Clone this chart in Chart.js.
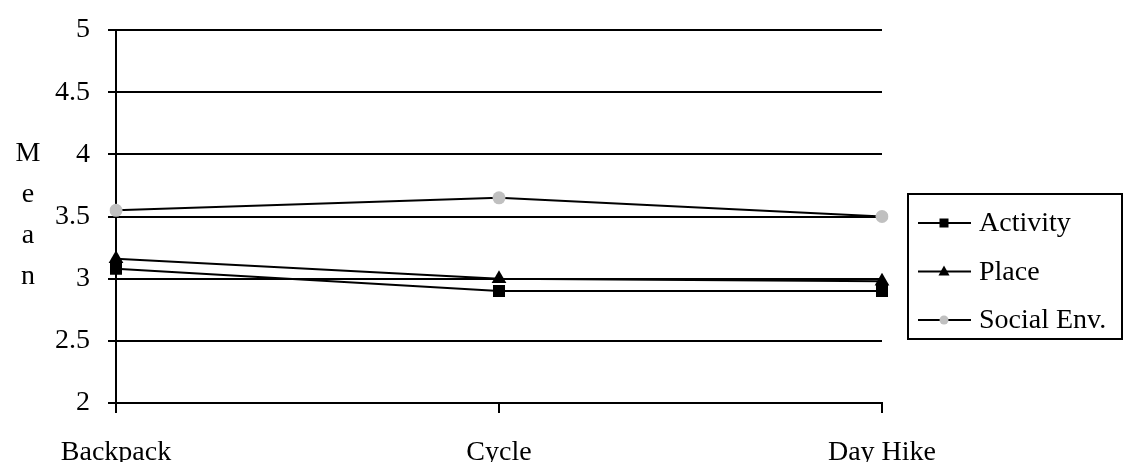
<!DOCTYPE html>
<html>
<head>
<meta charset="utf-8">
<script src="https://cdn.jsdelivr.net/npm/chart.js@4.4.1/dist/chart.umd.min.js"></script>
<style>
  html, body { margin: 0; padding: 0; background: #fff; }
  #wrap { width: 1125px; height: 462px; position: relative; }
</style>
</head>
<body>
<div id="wrap"><canvas id="c" width="1125" height="462"></canvas></div>
<script>
// Trip types and mean scores per dimension
const categories = ['Backpack', 'Cycle', 'Day Hike'];
const activity   = [3.08, 2.90, 2.90];
const place      = [3.16, 3.00, 2.98];
const socialEnv  = [3.55, 3.65, 3.50];
const seriesNames = ['Activity', 'Place', 'Social Env.'];
const yTicks = [2, 2.5, 3, 3.5, 4, 4.5, 5];
const yTitle = ['M', 'e', 'a', 'n'];

const FONT = '"Liberation Serif", "Times New Roman", serif';
const FONT_SIZE = 28;

// Boxed legend with a short line through each marker, plus the stacked axis title
const extrasPlugin = {
  id: 'extras',
  afterDraw(chart) {
    const ctx = chart.ctx;
    const area = chart.chartArea;
    ctx.save();
    // stacked y title, one letter per line
    ctx.fillStyle = '#000';
    ctx.font = FONT_SIZE + 'px ' + FONT;
    ctx.textAlign = 'center';
    ctx.textBaseline = 'alphabetic';
    yTitle.forEach((ch, i) => {
      ctx.fillText(ch, 28, area.top + 131 + i * 41);
    });

    // legend box
    const bx = area.right + 26, by = area.top + 164, bw = 214, bh = 145;
    ctx.lineWidth = 2;
    ctx.strokeStyle = '#000';
    ctx.strokeRect(bx, by, bw, bh);
    chart.data.datasets.forEach((ds, i) => {
      const cy = by + 29 + i * 48.5;
      ctx.beginPath();
      ctx.moveTo(bx + 10, cy);
      ctx.lineTo(bx + 63, cy);
      ctx.lineWidth = 2;
      ctx.strokeStyle = '#000';
      ctx.stroke();
      const cx = bx + 36;
      ctx.fillStyle = ds.pointBackgroundColor;
      ctx.beginPath();
      if (ds.pointStyle === 'rect') {
        ctx.rect(cx - 4.5, cy - 4.5, 9, 9);
      } else if (ds.pointStyle === 'triangle') {
        ctx.moveTo(cx, cy - 6);
        ctx.lineTo(cx + 5.5, cy + 4);
        ctx.lineTo(cx - 5.5, cy + 4);
        ctx.closePath();
      } else {
        ctx.arc(cx, cy, 4.5, 0, Math.PI * 2);
      }
      ctx.fill();
      ctx.fillStyle = '#000';
      ctx.font = FONT_SIZE + 'px ' + FONT;
      ctx.textAlign = 'left';
      ctx.textBaseline = 'middle';
      ctx.fillText(ds.label, bx + 71, cy + 1);
    });
    ctx.restore();
  }
};

new Chart(document.getElementById('c'), {
  type: 'line',
  data: {
    labels: categories,
    datasets: [
      { label: seriesNames[0], data: activity, borderColor: '#000', borderWidth: 2,
        pointStyle: 'rect', pointRadius: 8.5, pointBackgroundColor: '#000', pointBorderColor: '#000', pointBorderWidth: 0 },
      { label: seriesNames[1], data: place, borderColor: '#000', borderWidth: 2,
        pointStyle: 'triangle', pointRadius: 8.5, pointBackgroundColor: '#000', pointBorderColor: '#000', pointBorderWidth: 0 },
      { label: seriesNames[2], data: socialEnv, borderColor: '#000', borderWidth: 2,
        pointStyle: 'circle', pointRadius: 6.5, pointBackgroundColor: '#c0c0c0', pointBorderColor: '#c0c0c0', pointBorderWidth: 0 }
    ]
  },
  options: {
    responsive: false,
    animation: false,
    devicePixelRatio: 1,
    layout: { padding: { left: 0, right: 243, top: 30, bottom: 0 } },
    plugins: { legend: { display: false }, tooltip: { enabled: false } },
    elements: { line: { tension: 0 } },
    scales: {
      x: {
        offset: false,
        grid: { display: true, drawOnChartArea: false, drawTicks: true, tickLength: 10, color: '#000', lineWidth: 2 },
        border: { display: true, color: '#000', width: 2 },
        ticks: { color: '#000', font: { family: FONT, size: FONT_SIZE }, padding: 23, maxRotation: 0 },
        afterFit(s) { s.height = 59; s.paddingLeft = 0; s.paddingRight = 0; }
      },
      y: {
        min: 2, max: 5,
        afterBuildTicks(s) { s.ticks = yTicks.map(v => ({ value: v })); },
        grid: { color: '#000', lineWidth: 2, drawTicks: true, tickLength: 8 },
        border: { display: true, color: '#000', width: 2 },
        ticks: { color: '#000', font: { family: FONT, size: FONT_SIZE }, padding: 18,
                 callback: v => String(v) },
        afterFit(s) { s.width = 116; s.paddingTop = 0; s.paddingBottom = 0; }
      }
    }
  },
  plugins: [extrasPlugin]
});
</script>
</body>
</html>
